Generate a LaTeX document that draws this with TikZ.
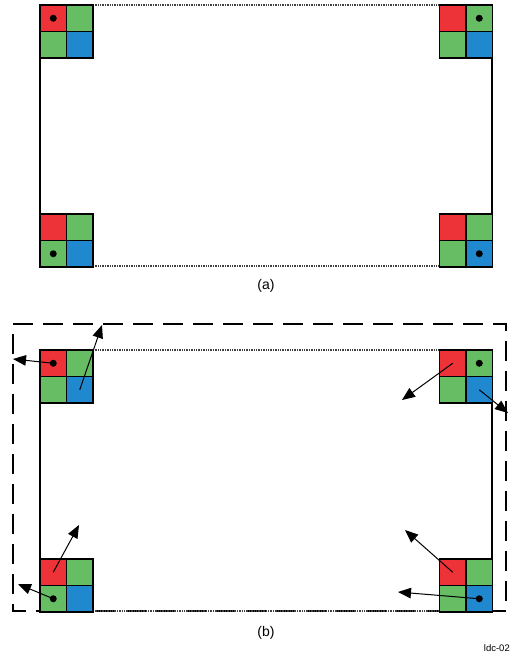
\documentclass[tikz,border=0pt]{standalone}
\usepackage{fontspec}
\setmainfont{Liberation Sans}
\usetikzlibrary{arrows.meta}
\definecolor{pxred}{HTML}{EE3338}
\definecolor{pxgreen}{HTML}{66BD63}
\definecolor{pxblue}{HTML}{1F88CF}
\tikzset{
  cell/.style={draw=black,line width=1.8pt,minimum size=26.5pt,inner sep=0pt,outer sep=0pt},
  pxdot/.style={circle,fill=black,minimum size=7pt,inner sep=0pt},
  frameside/.style={line width=1.4pt,black},
  frametb/.style={line width=1.4pt,black!75,densely dotted},
  outline/.style={line width=1.8pt,dash pattern=on 20pt off 10pt},
  move/.style={line width=1pt,-{Triangle[length=13pt,width=10.5pt]}},
  caption/.style={font=\fontsize{14}{16}\selectfont,inner sep=0pt}
}
\newcommand{\quadblock}[3]{%
  \node[cell,fill=pxred]   (#1-r)  at (#2+13.25,#3+13.25) {};
  \node[cell,fill=pxgreen] (#1-g1) at (#2+39.75,#3+13.25) {};
  \node[cell,fill=pxgreen] (#1-g2) at (#2+13.25,#3+39.75) {};
  \node[cell,fill=pxblue]  (#1-b)  at (#2+39.75,#3+39.75) {};
}
\begin{document}
\begin{tikzpicture}[x=1pt,y=-1pt]
\useasboundingbox (0,0) rectangle (511,656);
% ---------- panel (a)
\draw[frametb] (40,5) -- (492,5);
\draw[frametb] (40,266) -- (492,266);
\draw[frameside] (40,5) -- (40,266);
\draw[frameside] (492,5) -- (492,266);
\quadblock{atl}{40}{5}
\quadblock{atr}{439.5}{5}
\quadblock{abl}{40}{214}
\quadblock{abr}{439.5}{214}
\node[pxdot] (atl-d) at (atl-r) {};
\node[pxdot] (atr-d) at (atr-g1) {};
\node[pxdot] (abl-d) at (abl-g2) {};
\node[pxdot] (abr-d) at (abr-b) {};
\node[caption] (capa) at (266,286) {(a)};
% ---------- panel (b)
\draw[outline] (13,324) -- (506,324) -- (506,611) -- (13,611) -- cycle;
\draw[frametb] (40,350) -- (492,350);
\draw[frametb] (40,611) -- (492,611);
\draw[frameside] (40,350) -- (40,611);
\draw[frameside] (492,350) -- (492,611);
\quadblock{btl}{40}{350}
\quadblock{btr}{439.5}{350}
\quadblock{bbl}{40}{559}
\quadblock{bbr}{439.5}{559}
\node[pxdot] (btl-d) at (btl-r) {};
\node[pxdot] (btr-d) at (btr-g1) {};
\node[pxdot] (bbl-d) at (bbl-g2) {};
\node[pxdot] (bbr-d) at (bbr-b) {};
\coordinate (t1) at (13,359);
\coordinate (t2) at (102,325);
\coordinate (t3) at (402,400);
\coordinate (t4) at (508,413);
\coordinate (t5) at (79,525);
\coordinate (t6) at (18,584);
\coordinate (t7) at (405,530);
\coordinate (t8) at (398,592);
\draw[move] (btl-d.center) -- (t1);
\draw[move] (btl-b.center) -- (t2);
\draw[move] (btr-r.center) -- (t3);
\draw[move] (btr-b.center) -- (t4);
\draw[move] (bbl-r.center) -- (t5);
\draw[move] (bbl-d.center) -- (t6);
\draw[move] (bbr-r.center) -- (t7);
\draw[move] (bbr-d.center) -- (t8);
\node[caption] (capb) at (266,633) {(b)};
\node[font=\fontsize{9.5}{11}\selectfont,inner sep=0pt,anchor=east] (tag) at (510,648) {ldc-02};
\end{tikzpicture}
\end{document}
